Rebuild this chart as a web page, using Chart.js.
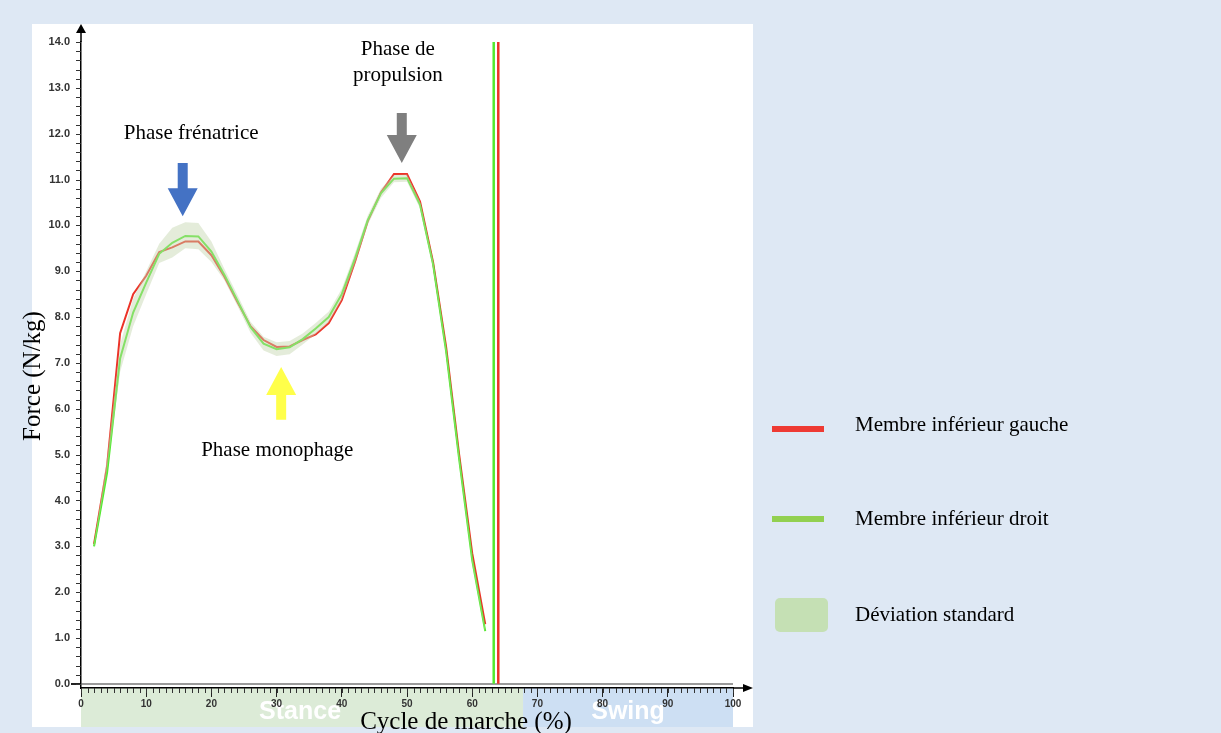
<!DOCTYPE html>
<html>
<head>
<meta charset="utf-8">
<script src="https://cdn.jsdelivr.net/npm/chart.js@4/dist/chart.umd.min.js"></script>
<style>
  html, body { margin: 0; padding: 0; background: #dee8f4; }
  #wrap { width: 1221px; height: 733px; }
</style>
</head>
<body>
<div id="wrap"><canvas id="gaitChart" width="1221" height="733"></canvas></div>
<script>
// ---- data ----
const cyclePct = [2, 4, 6, 8, 10, 12, 14, 16, 18, 20, 22, 24, 26, 28, 30, 32, 34, 36, 38, 40, 42, 44, 46, 48, 50, 52, 54, 56, 58, 60, 62];
const leftForce = [3.05, 4.75, 7.65, 8.5, 8.9, 9.42, 9.52, 9.65, 9.65, 9.35, 8.88, 8.33, 7.8, 7.5, 7.35, 7.36, 7.5, 7.62, 7.87, 8.37, 9.2, 10.1, 10.72, 11.12, 11.12, 10.52, 9.2, 7.35, 5.0, 2.85, 1.3];
const rightForce = [3.0, 4.6, 7.1, 8.1, 8.75, 9.38, 9.62, 9.77, 9.76, 9.43, 8.92, 8.36, 7.78, 7.42, 7.3, 7.34, 7.52, 7.75, 8.0, 8.5, 9.27, 10.12, 10.7, 11.02, 11.03, 10.45, 9.15, 7.25, 4.9, 2.7, 1.15];
const sdUpper = [3.05, 4.95, 7.4, 8.4, 9.0, 9.6, 9.95, 10.07, 10.05, 9.65, 9.05, 8.48, 7.9, 7.57, 7.45, 7.48, 7.64, 7.87, 8.12, 8.62, 9.39, 10.22, 10.8, 11.1, 11.11, 10.53, 9.23, 7.33, 4.98, 2.78, 1.2];
const sdLower = [2.95, 4.65, 6.8, 7.8, 8.5, 9.18, 9.3, 9.5, 9.48, 9.2, 8.8, 8.24, 7.66, 7.27, 7.15, 7.19, 7.4, 7.63, 7.88, 8.38, 9.15, 10.02, 10.6, 10.94, 10.95, 10.37, 9.07, 7.17, 4.82, 2.62, 1.1];

// toe-off markers (% of cycle)
const toeOffRight = 63.3;
const toeOffLeft = 64.0;
const stanceEnd = 67.8;

const yTicks = [0, 1, 2, 3, 4, 5, 6, 7, 8, 9, 10, 11, 12, 13, 14];
const xTicks = [0, 10, 20, 30, 40, 50, 60, 70, 80, 90, 100];

const legendItems = ["Membre inférieur gauche", "Membre inférieur droit", "Déviation standard"];

const RED = "#ec3328";
const GREEN = "#52ea2e";
const SERIF = "'Liberation Serif', 'Times New Roman', serif";
const SANS = "'Liberation Sans', Arial, sans-serif";

const pts = arr => arr.map((v, i) => ({ x: cyclePct[i], y: v }));

/* ── decorations: background, phases, arrows, legend ───────*/
const decor = {
  id: "decor",
  beforeDraw(chart) {
    const { ctx, scales: { x } } = chart;
    const a = chart.chartArea;
    ctx.save();
    ctx.fillStyle = "#dee8f4";
    ctx.fillRect(0, 0, chart.width, chart.height);
    ctx.fillStyle = "#ffffff";
    ctx.fillRect(32, 24, 721, 703);

    // stance / swing strip under the axis
    const xs = x.getPixelForValue(stanceEnd);
    ctx.fillStyle = "#dcebd7";
    ctx.fillRect(a.left, a.bottom, xs - a.left, 727 - a.bottom);
    ctx.fillStyle = "#cddff3";
    ctx.fillRect(xs, a.bottom, x.getPixelForValue(100) - xs, 727 - a.bottom);
    ctx.fillStyle = "#ffffff";
    ctx.font = "bold 25px " + SANS;
    ctx.textAlign = "center";
    ctx.textBaseline = "middle";
    ctx.fillText("Stance", x.getPixelForValue(33.6), 712);
    ctx.fillText("Swing", x.getPixelForValue(83.9), 712);
    ctx.restore();
  },
  afterDraw(chart) {
    const { ctx, scales: { x, y } } = chart;
    const a = chart.chartArea;
    ctx.save();

    // minor ticks
    ctx.strokeStyle = "#333";
    ctx.lineWidth = 1;
    ctx.beginPath();
    for (let v = 0; v <= 14.001; v += 0.2) {
      const py = Math.round(y.getPixelForValue(v)) + 0.5;
      ctx.moveTo(a.left - 5, py); ctx.lineTo(a.left, py);
    }
    for (let v = 0; v <= 100; v += 1) {
      const px = Math.round(x.getPixelForValue(v)) + 0.5;
      ctx.moveTo(px, a.bottom); ctx.lineTo(px, a.bottom + 5);
    }
    ctx.stroke();

    // axis arrows
    ctx.fillStyle = "#000";
    ctx.strokeStyle = "#000";
    ctx.lineWidth = 1.5;
    ctx.beginPath();
    ctx.moveTo(a.left, a.top); ctx.lineTo(a.left, 30);
    ctx.moveTo(a.right, a.bottom); ctx.lineTo(745, a.bottom);
    ctx.stroke();
    ctx.beginPath();
    ctx.moveTo(a.left, 24); ctx.lineTo(a.left - 5, 33); ctx.lineTo(a.left + 5, 33); ctx.closePath();
    ctx.moveTo(753, a.bottom); ctx.lineTo(743, a.bottom - 4); ctx.lineTo(743, a.bottom + 4); ctx.closePath();
    ctx.fill();

    // axis titles
    ctx.fillStyle = "#000";
    ctx.font = "25px " + SERIF;
    ctx.textAlign = "center";
    ctx.textBaseline = "middle";
    ctx.fillText("Cycle de marche (%)", 466, 722);
    ctx.save();
    ctx.translate(33, 376);
    ctx.rotate(-Math.PI / 2);
    ctx.fillText("Force (N/kg)", 0, 0);
    ctx.restore();

    // phase annotations
    ctx.font = "21px " + SERIF;
    ctx.fillText("Phase frénatrice", x.getPixelForValue(16.9), y.getPixelForValue(12.0));
    ctx.fillText("Phase de", x.getPixelForValue(48.6), y.getPixelForValue(13.83));
    ctx.fillText("propulsion", x.getPixelForValue(48.6), y.getPixelForValue(13.26));
    ctx.fillText("Phase monophage", x.getPixelForValue(30.1), y.getPixelForValue(5.08));

    const arrow = (cx, tipY, tailY, color) => {
      const dir = tailY < tipY ? 1 : -1; // 1 = pointing down
      const headBase = tipY - dir * 28;
      ctx.fillStyle = color;
      ctx.beginPath();
      ctx.moveTo(cx - 5, tailY);
      ctx.lineTo(cx + 5, tailY);
      ctx.lineTo(cx + 5, headBase);
      ctx.lineTo(cx + 15, headBase);
      ctx.lineTo(cx, tipY);
      ctx.lineTo(cx - 15, headBase);
      ctx.lineTo(cx - 5, headBase);
      ctx.closePath();
      ctx.fill();
    };
    arrow(x.getPixelForValue(15.6), y.getPixelForValue(10.2), y.getPixelForValue(11.36), "#4472c4");
    arrow(x.getPixelForValue(49.2), y.getPixelForValue(11.36), y.getPixelForValue(12.45), "#7f7f7f");
    arrow(x.getPixelForValue(30.7), y.getPixelForValue(6.91), y.getPixelForValue(5.76), "#ffff4a");

    // legend
    ctx.fillStyle = "#ee3a33";
    ctx.fillRect(772, 426, 52, 6);
    ctx.fillStyle = "#92d050";
    ctx.fillRect(772, 516, 52, 6);
    ctx.fillStyle = "#c5e0b4";
    ctx.beginPath();
    ctx.roundRect(775, 598, 53, 34, 5);
    ctx.fill();
    ctx.fillStyle = "#000";
    ctx.font = "21px " + SERIF;
    ctx.textAlign = "left";
    ctx.fillText(legendItems[0], 855, 425);
    ctx.fillText(legendItems[1], 855, 519);
    ctx.fillText(legendItems[2], 855, 615);
    ctx.restore();
  }
};

new Chart(document.getElementById("gaitChart"), {
  type: "line",
  data: {
    datasets: [
      { label: "sdLower", data: pts(sdLower), borderWidth: 0, pointRadius: 0, fill: false },
      { label: "sdUpper", data: pts(sdUpper), borderWidth: 0, pointRadius: 0, fill: "-1",
        backgroundColor: "rgba(196,212,172,0.45)" },
      { label: "droit", data: pts(rightForce), borderColor: GREEN, borderWidth: 2, pointRadius: 0 },
      { label: "gauche", data: pts(leftForce), borderColor: RED, borderWidth: 2, pointRadius: 0 },
      { label: "toeOffR", data: [{ x: toeOffRight, y: 0 }, { x: toeOffRight, y: 14 }], borderColor: GREEN, borderWidth: 2.5, pointRadius: 0 },
      { label: "toeOffL", data: [{ x: toeOffLeft, y: 0 }, { x: toeOffLeft, y: 14 }], borderColor: RED, borderWidth: 2.5, pointRadius: 0 }
    ]
  },
  options: {
    responsive: false,
    animation: false,
    layout: { padding: { left: 32, right: 488, top: 42, bottom: 0 } },
    plugins: { legend: { display: false }, tooltip: { enabled: false } },
    elements: { line: { tension: 0 } },
    scales: {
      x: {
        type: "linear", min: 0, max: 100,
        afterFit: s => { s.height = 45; },
        afterBuildTicks: s => { s.ticks = xTicks.map(v => ({ value: v })); },
        ticks: { color: "#333", font: { size: 10, weight: "bold", family: SANS }, padding: 1, maxRotation: 0 },
        grid: { drawOnChartArea: false, tickLength: 9, tickColor: "#222" },
        border: { color: "#000", width: 1.5 }
      },
      y: {
        min: -0.09, max: 14,
        afterFit: s => { s.width = 49; },
        afterBuildTicks: s => { s.ticks = yTicks.map(v => ({ value: v })); },
        ticks: { color: "#333", font: { size: 11, weight: "bold", family: SANS }, padding: 1,
                 callback: v => v.toFixed(1) },
        grid: {
          drawOnChartArea: true, tickLength: 10, tickColor: "#222",
          color: c => (c.tick && c.tick.value === 0 ? "#9a9a9a" : "rgba(0,0,0,0)"),
          lineWidth: c => (c.tick && c.tick.value === 0 ? 2 : 0)
        },
        border: { color: "#000", width: 1.5 }
      }
    }
  },
  plugins: [decor]
});
</script>
</body>
</html>
